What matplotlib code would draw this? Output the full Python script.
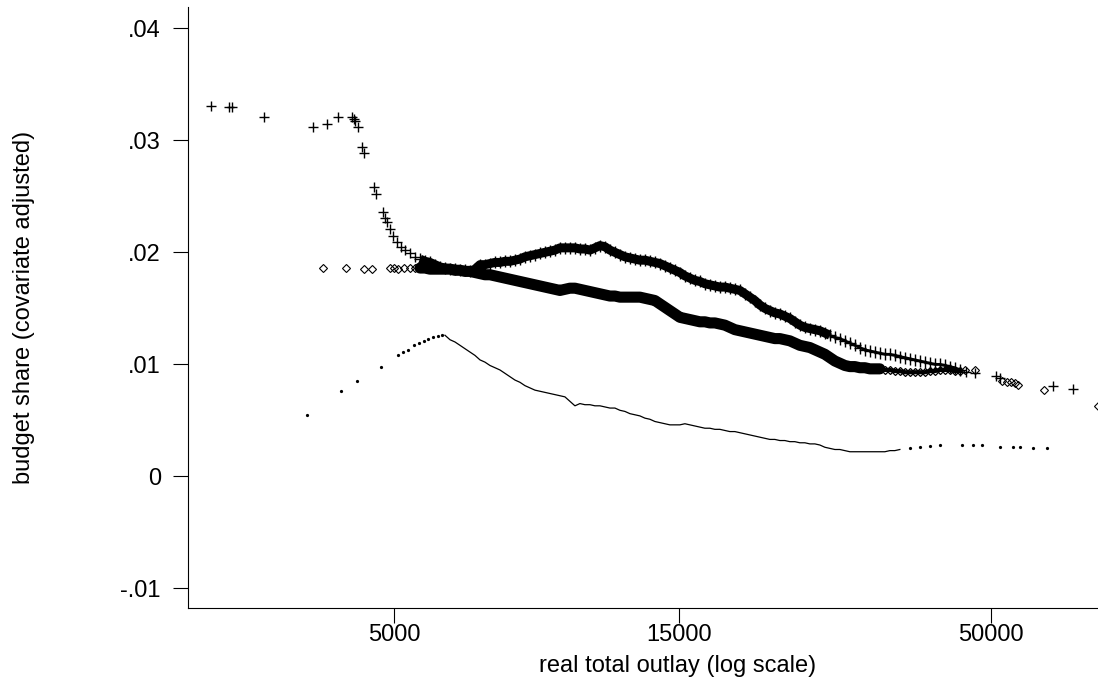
import matplotlib.pyplot as plt
from matplotlib.ticker import FixedLocator, FixedFormatter, NullLocator

plt.rcParams['font.family'] = ['Liberation Sans', 'DejaVu Sans']

# outlay values where the three fits are densely observed
dense_outlay = [5528, 5636, 5745, 5857, 5971, 6087, 6206, 6326, 6450, 6575,
                6703, 6834, 6967, 7102, 7241, 7382, 7525, 7672, 7821, 7973,
                8128, 8287, 8448, 8612, 8780, 8951, 9125, 9303, 9484, 9668,
                9857, 10049, 10244, 10444, 10647, 10854, 11066, 11281, 11501, 11725,
                11953, 12186, 12423, 12665, 12911, 13162, 13419, 13680, 13946, 14218,
                14494, 14777, 15064, 15357, 15656, 15961, 16272, 16589, 16911, 17241,
                17576, 17918, 18267, 18623, 18985, 19355, 19731, 20115, 20507, 20906,
                21313, 21728, 22151, 22582, 23022, 23470, 23927, 24397, 24872, 25356,
                25850, 26353, 26866, 27389, 27922, 28465, 29020, 29585, 30160, 30748,
                31346, 31956, 32578, 33213, 33859, 34518, 35190, 35885, 36584, 37296,
                38022, 38762, 39517, 40286, 41071, 41870, 42685, 43516, 44363]

plus_dense = [0.0194, 0.0192, 0.0191, 0.0189, 0.0187, 0.0186, 0.0185, 0.0185, 0.0184, 0.0184,
              0.0183, 0.0185, 0.0189, 0.0189, 0.0190, 0.0191, 0.0191, 0.0192, 0.0192, 0.0193,
              0.0194, 0.0196, 0.0197, 0.0198, 0.0199, 0.0200, 0.0201, 0.0202, 0.0204, 0.0204,
              0.0204, 0.0204, 0.0203, 0.0203, 0.0202, 0.0204, 0.0206, 0.0205, 0.0202, 0.0200,
              0.0198, 0.0196, 0.0195, 0.0194, 0.0193, 0.0193, 0.0192, 0.0191, 0.0190, 0.0188,
              0.0186, 0.0184, 0.0182, 0.0179, 0.0177, 0.0175, 0.0174, 0.0172, 0.0171, 0.0170,
              0.0169, 0.0169, 0.0168, 0.0167, 0.0166, 0.0163, 0.0160, 0.0157, 0.0153, 0.0150,
              0.0148, 0.0146, 0.0145, 0.0143, 0.0141, 0.0138, 0.0135, 0.0133, 0.0132, 0.0131,
              0.0130, 0.0128, 0.0126, 0.0124, 0.0123, 0.0121, 0.0119, 0.0117, 0.0115, 0.0113,
              0.0112, 0.0111, 0.0110, 0.0109, 0.0109, 0.0108, 0.0107, 0.0106, 0.0105, 0.0104,
              0.0103, 0.0102, 0.0101, 0.0100, 0.0100, 0.0099, 0.0098, 0.0097, 0.0095]

diamond_dense = [0.0186, 0.0186, 0.0185, 0.0185, 0.0185, 0.0185, 0.0185, 0.0184, 0.0184, 0.0183,
                 0.0183, 0.0182, 0.0181, 0.0180, 0.0180, 0.0179, 0.0178, 0.0177, 0.0176, 0.0175,
                 0.0174, 0.0173, 0.0172, 0.0171, 0.0170, 0.0169, 0.0168, 0.0167, 0.0166, 0.0167,
                 0.0168, 0.0168, 0.0167, 0.0166, 0.0165, 0.0164, 0.0163, 0.0162, 0.0161, 0.0161,
                 0.0160, 0.0160, 0.0160, 0.0160, 0.0160, 0.0159, 0.0158, 0.0157, 0.0154, 0.0151,
                 0.0148, 0.0145, 0.0142, 0.0141, 0.0140, 0.0139, 0.0138, 0.0138, 0.0137, 0.0137,
                 0.0136, 0.0135, 0.0133, 0.0131, 0.0130, 0.0129, 0.0128, 0.0127, 0.0126, 0.0125,
                 0.0124, 0.0123, 0.0123, 0.0122, 0.0121, 0.0119, 0.0117, 0.0116, 0.0115, 0.0113,
                 0.0111, 0.0109, 0.0106, 0.0103, 0.0101, 0.0099, 0.0098, 0.0098, 0.0097, 0.0097,
                 0.0096, 0.0096, 0.0096, 0.0095, 0.0095, 0.0094, 0.0094, 0.0093, 0.0093, 0.0093,
                 0.0093, 0.0093, 0.0094, 0.0094, 0.0095, 0.0095, 0.0095, 0.0094, 0.0094]

# third fit, dense only from dense_outlay[5] to dense_outlay[96]
dot_dense = [0.0126, 0.0122, 0.0120, 0.0117, 0.0114, 0.0111, 0.0108, 0.0104, 0.0102, 0.0099,
             0.0097, 0.0095, 0.0092, 0.0089, 0.0086, 0.0084, 0.0081, 0.0079, 0.0077, 0.0076,
             0.0075, 0.0074, 0.0073, 0.0072, 0.0071, 0.0067, 0.0063, 0.0065, 0.0064, 0.0064,
             0.0063, 0.0063, 0.0062, 0.0061, 0.0061, 0.0059, 0.0058, 0.0056, 0.0055, 0.0054,
             0.0052, 0.0051, 0.0049, 0.0048, 0.0047, 0.0046, 0.0046, 0.0046, 0.0047, 0.0046,
             0.0045, 0.0044, 0.0043, 0.0043, 0.0042, 0.0042, 0.0041, 0.0040, 0.0040, 0.0039,
             0.0038, 0.0037, 0.0036, 0.0035, 0.0034, 0.0033, 0.0033, 0.0032, 0.0032, 0.0031,
             0.0031, 0.0030, 0.0030, 0.0029, 0.0029, 0.0028, 0.0026, 0.0025, 0.0024, 0.0024,
             0.0023, 0.0022, 0.0022, 0.0022, 0.0022, 0.0022, 0.0022, 0.0022, 0.0022, 0.0023,
             0.0023, 0.0024]

# sparse tails
plus_low_outlay = [2469, 2646, 2676, 3029, 3658, 3861, 4028, 4252, 4285, 4302, 4352, 4420,
                   4454, 4629, 4665, 4793, 4829, 4867, 4923, 4981, 5058, 5137, 5217, 5318, 5422]
plus_low_share = [0.0331, 0.0330, 0.0330, 0.0321, 0.0312, 0.0315, 0.0321, 0.0321, 0.0319, 0.0317,
                  0.0312, 0.0294, 0.0289, 0.0258, 0.0252, 0.0236, 0.0231, 0.0227, 0.0221, 0.0215,
                  0.0209, 0.0205, 0.0202, 0.0199, 0.0196]
plus_high_outlay = [45405, 47010, 50900, 51765, 63500, 68600]
plus_high_share = [0.0093, 0.0092, 0.0090, 0.0088, 0.0081, 0.0078]

diamond_low_outlay = [3803, 4155, 4454, 4593, 4923, 5000, 5078, 5196, 5318, 5422]
diamond_low_share = [0.0186, 0.0186, 0.0185, 0.0185, 0.0186, 0.0186, 0.0185, 0.0186, 0.0186, 0.0186]
diamond_high_outlay = [45230, 47010, 52170, 53180, 54010, 54850, 55490, 61370, 75560]
diamond_high_share = [0.0095, 0.0095, 0.0085, 0.0084, 0.0084, 0.0083, 0.0082, 0.0077, 0.0063]

dot_low_outlay = [3575, 4075, 4335, 4756, 5078, 5176, 5277, 5401, 5506, 5613, 5701, 5812, 5925, 6017]
dot_low_share = [0.0055, 0.0076, 0.0085, 0.0098, 0.0108, 0.0111, 0.0113, 0.0117, 0.0119, 0.0121,
                 0.0123, 0.0124, 0.0125, 0.0126]
dot_high_outlay = [36584, 38022, 39517, 41071, 44710, 46640, 48300, 51765, 54430, 55930, 58800, 62070]
dot_high_share = [0.0025, 0.0026, 0.0027, 0.0028, 0.0028, 0.0028, 0.0028, 0.0026, 0.0026, 0.0026,
                  0.0025, 0.0025]

yticks = [-0.01, 0, 0.01, 0.02, 0.03, 0.04]
ytick_labels = ['-.01', '0', '.01', '.02', '.03', '.04']
xticks = [5000, 15000, 50000]
xtick_labels = ['5000', '15000', '50000']

fig = plt.figure(figsize=(10.98, 6.83), dpi=100)
ax = fig.add_axes([0.1709, 0.1098, 0.8931, 0.8804])

# solid cores where the markers pile up, thinner where they thin out
ax.plot(dense_outlay[:83], plus_dense[:83], color='black', lw=6.5, solid_capstyle='butt')
ax.plot(dense_outlay[82:], plus_dense[82:], color='black', lw=2.0)
ax.plot(dense_outlay[:93], diamond_dense[:93], color='black', lw=8, solid_capstyle='round')
ax.plot(dense_outlay[92:], diamond_dense[92:], color='black', lw=3.0)

ax.plot(dense_outlay, plus_dense, ls='none', marker='+', ms=8.5, mew=1.0, color='black')
ax.plot(plus_low_outlay, plus_low_share, ls='none', marker='+', ms=7, mew=1.0, color='black')
ax.plot(plus_high_outlay, plus_high_share, ls='none', marker='+', ms=7, mew=1.0, color='black')

ax.plot(dense_outlay, diamond_dense, ls='none', marker='D', ms=4.5, mew=0.9,
        mfc='none', mec='black')
ax.plot(diamond_low_outlay, diamond_low_share, ls='none', marker='D', ms=4.3, mew=0.8,
        mfc='none', mec='black')
ax.plot(diamond_high_outlay, diamond_high_share, ls='none', marker='D', ms=4.3, mew=0.8,
        mfc='none', mec='black')

ax.plot(dense_outlay[5:97], dot_dense, color='black', lw=0.9)
ax.plot(dot_low_outlay, dot_low_share, ls='none', marker='o', ms=1.3, color='black')
ax.plot(dot_high_outlay, dot_high_share, ls='none', marker='o', ms=1.3, color='black')

ax.set_xscale('log')
ax.set_xlim(2256, 99100)
ax.set_ylim(-0.01175, 0.04193)

ax.xaxis.set_major_locator(FixedLocator(xticks))
ax.xaxis.set_major_formatter(FixedFormatter(xtick_labels))
ax.xaxis.set_minor_locator(NullLocator())
ax.yaxis.set_major_locator(FixedLocator(yticks))
ax.yaxis.set_major_formatter(FixedFormatter(ytick_labels))

for side in ['top', 'right']:
    ax.spines[side].set_visible(False)
for side in ['left', 'bottom']:
    ax.spines[side].set_linewidth(0.8)

ax.tick_params(axis='both', direction='out', length=10.8, width=0.8, labelsize=17)
ax.tick_params(axis='y', pad=8.5)
ax.tick_params(axis='x', pad=1)

ax.set_xlabel('real total outlay (log scale)', fontsize=17, va='center')
ax.xaxis.set_label_coords(0.5, -0.0965)
ax.set_ylabel('budget share (covariate adjusted)', fontsize=17, va='center')
ax.yaxis.set_label_coords(-0.1669, 0.5)

fig.savefig('out.png', dpi=100)
